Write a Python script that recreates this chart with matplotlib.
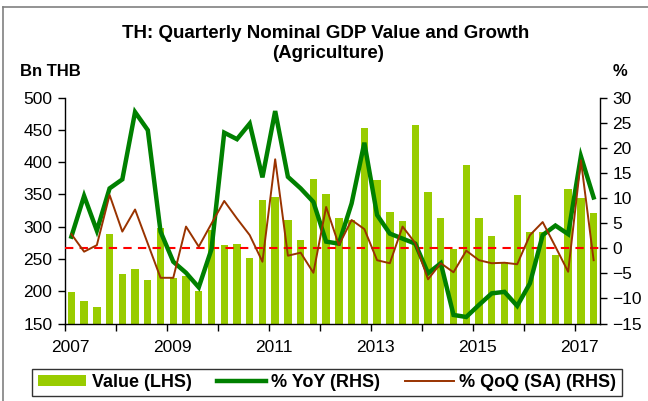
import matplotlib
matplotlib.use("Agg")
import matplotlib.pyplot as plt
import numpy as np
from matplotlib.patches import Patch
from matplotlib.lines import Line2D

plt.rcParams['font.family'] = ['Liberation Sans', 'DejaVu Sans']

# quarterly data, 2007Q1 .. 2017Q2
years = [2007, 2009, 2011, 2013, 2015, 2017]
value = [199, 185, 176, 288, 226, 235, 218, 298, 220, 224, 201, 295,
         271, 273, 251, 342, 346, 311, 280, 374, 350, 314, 310, 452,
         373, 323, 309, 457, 353, 313, 266, 395, 314, 285, 245, 349,
         291, 292, 256, 359, 345, 321]
yoy = [2.3, 10.4, 3.5, 11.9, 13.7, 27.1, 23.5, 3.3, -2.7, -4.9, -7.8, -0.2,
       23.0, 21.7, 24.8, 14.1, 27.3, 14.2, 11.9, 9.2, 1.3, 0.9, 8.9, 21.0,
       6.6, 2.9, 1.9, 0.9, -5.0, -3.0, -13.3, -13.7, -11.3, -9.0, -8.7, -11.5,
       -7.0, 2.6, 4.5, 2.8, 18.3, 10.1]
qoq = [2.8, -0.7, 0.6, 10.6, 3.3, 7.7, 0.9, -5.9, -5.9, 4.3, 0.3, 4.9,
       9.4, 5.9, 2.6, -2.7, 17.7, -1.5, -0.9, -4.9, 8.2, 0.6, 5.6, 3.8,
       -2.4, -3.0, 4.3, 1.0, -6.2, -3.0, -4.8, -0.5, -2.4, -3.0, -2.9, -3.2,
       2.6, 5.2, 0.3, -4.7, 17.5, -2.4]

bar_col = '#99CC00'
yoy_col = '#008000'
qoq_col = '#993300'

W, H = 648, 401
fig = plt.figure(figsize=(W / 100, H / 100), dpi=100)

# outer frame
fig.add_artist(Line2D([3 / W, 3 / W], [0, 1 - 7 / H], color='#808080', lw=1.2))
fig.add_artist(Line2D([3 / W, 1], [1 - 7 / H, 1 - 7 / H], color='#808080', lw=1.2))

ax = fig.add_axes([65 / W, (H - 323.5) / H, 535 / W, 226 / H])
ax2 = ax.twinx()

x = np.arange(len(value))
ax.bar(x, value, width=0.58, color=bar_col, zorder=2)
ax.set_ylim(150, 500)
ax.set_yticks(np.arange(150, 501, 50))
ax.set_xlim(-0.5, len(value) - 0.5)

ax2.axhline(0, color='#FF0000', lw=1.5, ls=(0, (4, 3)), zorder=3)
ax2.plot(x, yoy, color=yoy_col, lw=3.2, solid_joinstyle='miter', zorder=4)
ax2.plot(x, qoq, color=qoq_col, lw=1.4, zorder=5)
ax2.set_ylim(-15, 30)
ax2.set_yticks(np.arange(-15, 31, 5))

# year boundary ticks, labels every other year
ax.set_xticks(np.arange(-0.5, len(value), 4))
ax.set_xticklabels([])
ax.set_xticks([(y - 2007) * 4 - 0.1 for y in years], minor=True)
ax.set_xticklabels([str(y) for y in years], minor=True)
ax.tick_params(axis='x', which='major', direction='out', length=5, width=1)
ax.tick_params(axis='x', which='minor', length=0, pad=12, labelsize=12.5)
ax.tick_params(axis='y', direction='out', length=5, width=1, labelsize=12.5, pad=4)
ax2.tick_params(axis='y', direction='out', length=5, width=1, labelsize=12.5, pad=4)

for a in (ax, ax2):
    a.spines['top'].set_visible(False)
    for s in ('left', 'right', 'bottom'):
        a.spines[s].set_linewidth(1)
ax.spines['right'].set_visible(False)
ax2.spines['left'].set_visible(False)
ax2.spines['bottom'].set_visible(False)
ax.set_facecolor('none')

fig.text(326 / W, 1 - 34 / H, 'TH: Quarterly Nominal GDP Value and Growth',
         ha='center', va='center', fontsize=13.5, fontweight='bold')
fig.text(328 / W, 1 - 53 / H, '(Agriculture)',
         ha='center', va='center', fontsize=13.5, fontweight='bold')
fig.text(20 / W, 1 - 72 / H, 'Bn THB', ha='left', va='center',
         fontsize=12, fontweight='bold')
fig.text(620 / W, 1 - 72 / H, '%', ha='center', va='center',
         fontsize=12, fontweight='bold')

handles = [Patch(facecolor=bar_col, edgecolor='none'),
           Line2D([], [], color=yoy_col, lw=3.2),
           Line2D([], [], color=qoq_col, lw=1.4)]
labels = ['Value (LHS)', '% YoY (RHS)', '% QoQ (SA) (RHS)']
leg = fig.legend(handles, labels, loc='center', bbox_to_anchor=(327 / W, 1 - 382.5 / H),
                 ncol=3, frameon=True, fancybox=False, edgecolor='black',
                 prop={'weight': 'bold', 'size': 13}, handlelength=2.7,
                 handleheight=0.55, handletextpad=0.3, columnspacing=1.4,
                 borderpad=0.3)
leg.get_frame().set_linewidth(1)

fig.savefig('out.png', dpi=100)
